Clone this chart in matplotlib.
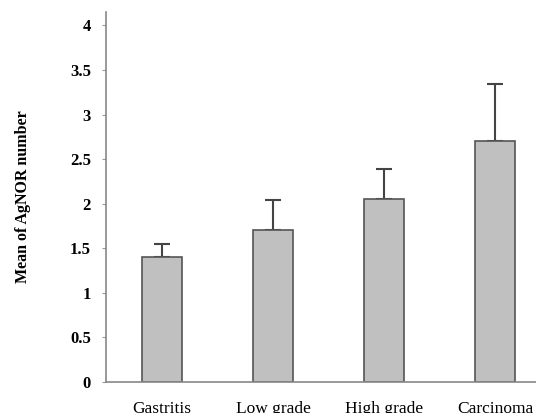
import numpy as np
import matplotlib
matplotlib.use('Agg')
import matplotlib.pyplot as plt

categories = ['Gastritis', 'Low grade', 'High grade', 'Carcinoma']
means = [1.40, 1.70, 2.05, 2.70]
errors = [0.15, 0.34, 0.34, 0.64]
yticks = [0, 0.5, 1, 1.5, 2, 2.5, 3, 3.5, 4]
ytick_labels = ['0', '0.5', '1', '1.5', '2', '2.5', '3', '3.5', '4']

plt.rcParams['font.family'] = ['Liberation Serif', 'DejaVu Serif']

fig = plt.figure(figsize=(5.36, 4.13), dpi=100)
ax = fig.add_axes([0.198, 0.075, 0.802, 0.896])

x = np.arange(len(categories))
ax.bar(x, means, width=0.36, color='#c0c0c0', edgecolor='#555555', linewidth=1.2, zorder=2)
ax.errorbar(x, means, yerr=[np.zeros(len(errors)), errors], fmt='none',
            ecolor='#444444', elinewidth=1.5, capsize=6, capthick=1.5, zorder=1)

ax.set_xlim(-0.505, 3.37)
ax.set_ylim(0, 4.15)
ax.set_yticks(yticks)
ax.set_yticklabels(ytick_labels, fontsize=12, fontweight='bold')
ax.set_xticks(x)
ax.set_xticklabels(categories, fontsize=12.5)
ax.tick_params(axis='x', length=0, pad=14)
ax.tick_params(axis='y', length=3, color='#999999', pad=8)

for side in ['top', 'right']:
    ax.spines[side].set_visible(False)
for side in ['left', 'bottom']:
    ax.spines[side].set_color('#888888')
    ax.spines[side].set_linewidth(1.2)

ax.set_ylabel('Mean of AgNOR number', fontsize=11.5, fontweight='bold', labelpad=28)

fig.savefig('out.png', dpi=100)
